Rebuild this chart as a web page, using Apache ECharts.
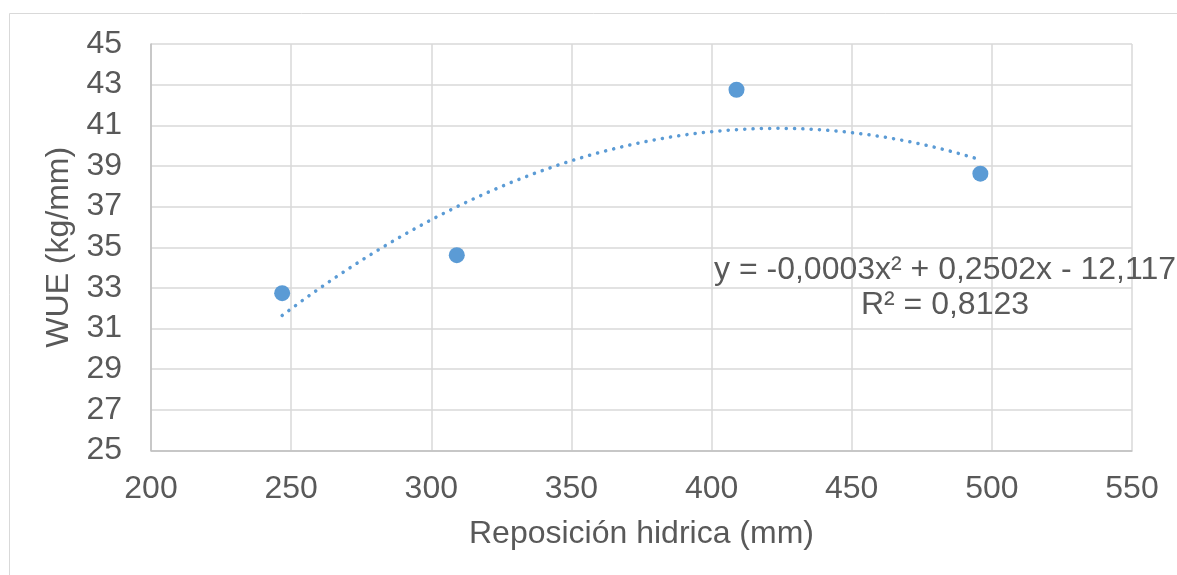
<!DOCTYPE html>
<html>
<head>
<meta charset="utf-8">
<script src="https://cdn.jsdelivr.net/npm/echarts@6/dist/echarts.min.js"></script>
<style>
  html, body { margin: 0; padding: 0; background: #fff; }
  #chart { width: 1177px; height: 575px; }
</style>
</head>
<body>
<div id="chart"></div>
<script>
// data
var reposicion = [246.8, 309.1, 408.9, 495.9];
var wue = [32.74, 34.61, 42.75, 38.62];
var xTicks = [200, 550, 50];   // min, max, step
var yTicks = [25, 45, 2];
var eqText = 'y = -0,0003x² + 0,2502x - 12,117\nR² = 0,8123';

var FONT = 'Liberation Sans, Arial, sans-serif';
var TXT = '#595959';
var BLUE = '#5b9bd5';

// polynomial (order 2) trendline, least squares like Excel does
function polyFit(xs, ys) {
    var s = [0, 0, 0, 0, 0], t = [0, 0, 0];
    for (var i = 0; i < xs.length; i++) {
        var p = 1;
        for (var k = 0; k < 5; k++) { s[k] += p; if (k < 3) t[k] += p * ys[i]; p *= xs[i]; }
    }
    var m = [[s[0], s[1], s[2], t[0]], [s[1], s[2], s[3], t[1]], [s[2], s[3], s[4], t[2]]];
    for (var c = 0; c < 3; c++) {
        for (var r = c + 1; r < 3; r++) {
            var f = m[r][c] / m[c][c];
            for (var j = c; j < 4; j++) m[r][j] -= f * m[c][j];
        }
    }
    var a = [0, 0, 0];
    for (var r2 = 2; r2 >= 0; r2--) {
        var v = m[r2][3];
        for (var j2 = r2 + 1; j2 < 3; j2++) v -= m[r2][j2] * a[j2];
        a[r2] = v / m[r2][r2];
    }
    return a; // a0 + a1 x + a2 x^2
}

var coef = polyFit(reposicion, wue);
var trend = [];
var x0 = Math.min.apply(null, reposicion), x1 = Math.max.apply(null, reposicion);
for (var x = x0; x <= x1; x += 1) {
    trend.push([x, coef[0] + coef[1] * x + coef[2] * x * x]);
}
trend.push([x1, coef[0] + coef[1] * x1 + coef[2] * x1 * x1]);

var points = reposicion.map(function (v, i) { return [v, wue[i]]; });

var chart = echarts.init(document.getElementById('chart'));
chart.setOption({
    animation: false,
    backgroundColor: '#fff',
    grid: { left: 151, top: 44, right: 45, bottom: 124.5 },
    textStyle: { fontFamily: FONT },
    xAxis: {
        type: 'value',
        min: xTicks[0], max: xTicks[1], interval: xTicks[2],
        name: 'Reposición hidrica (mm)',
        nameLocation: 'middle',
        nameGap: 68,
        nameTextStyle: { fontSize: 32, color: TXT, fontFamily: FONT },
        axisLine: { lineStyle: { color: '#bfbfbf', width: 1.5 } },
        axisTick: { show: false },
        axisLabel: { fontSize: 32, color: TXT, margin: 23, fontFamily: FONT },
        splitLine: { lineStyle: { color: '#d9d9d9', width: 1.5 } }
    },
    yAxis: {
        type: 'value',
        min: yTicks[0], max: yTicks[1], interval: yTicks[2],
        name: 'WUE (kg/mm)',
        nameLocation: 'middle',
        nameRotate: 90,
        nameGap: 70,
        nameTextStyle: { fontSize: 32, color: TXT, fontFamily: FONT },
        axisLine: { show: true, lineStyle: { color: '#bfbfbf', width: 1.5 } },
        axisTick: { show: false },
        axisLabel: { fontSize: 32, color: TXT, margin: 29, fontFamily: FONT },
        splitLine: { lineStyle: { color: '#d9d9d9', width: 1.5 } }
    },
    graphic: [
        {
            type: 'rect',
            shape: { x: 9.5, y: 13.5, width: 1200, height: 600 },
            style: { fill: null, stroke: '#d9d9d9', lineWidth: 1 },
            silent: true, z: -1
        },
        {
            type: 'text',
            x: 945, y: 288,
            style: {
                text: eqText,
                font: '32px ' + FONT,
                fill: TXT,
                textAlign: 'center',
                textVerticalAlign: 'middle',
                lineHeight: 35
            },
            z: 10
        }
    ],
    series: [
        {
            type: 'line',
            data: trend,
            showSymbol: false,
            smooth: false,
            lineStyle: { color: BLUE, width: 3.5, type: [0.1, 8.2], cap: 'round' },
            z: 2
        },
        {
            type: 'scatter',
            data: points,
            symbolSize: 16,
            itemStyle: { color: BLUE, opacity: 1 },
            z: 3
        }
    ]
});
</script>
</body>
</html>
